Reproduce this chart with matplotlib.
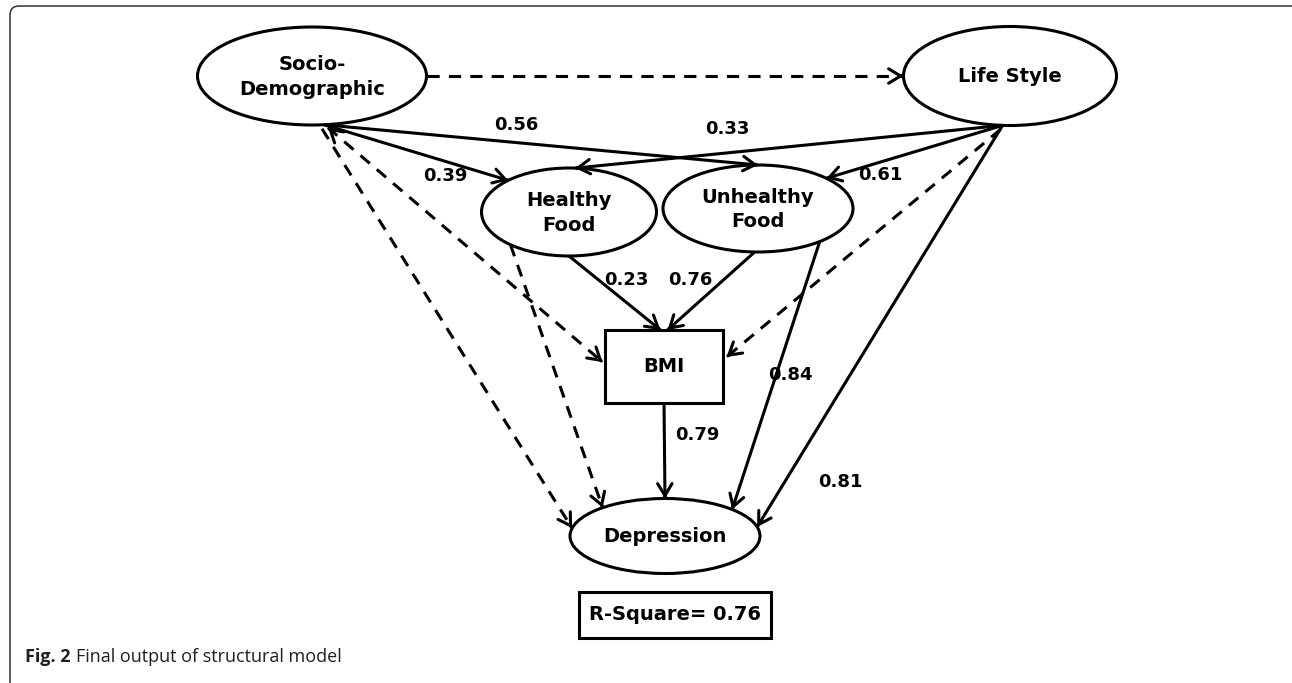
import numpy as np
import matplotlib
matplotlib.use('Agg')
import matplotlib.pyplot as plt
from matplotlib.patches import Ellipse, Rectangle, FancyBboxPatch

# node labels
node_names = ['socio', 'life', 'healthy', 'unhealthy', 'depression']
node_labels = ['Socio-\nDemographic', 'Life Style', 'Healthy\nFood', 'Unhealthy\nFood', 'Depression']
bmi_label = 'BMI'

# path coefficients (solid paths) and their labels
coef_edges = ['socio-unhealthy', 'socio-healthy', 'life-healthy', 'life-unhealthy',
              'healthy-bmi', 'unhealthy-bmi', 'unhealthy-depression', 'bmi-depression',
              'life-depression']
coef_values = [0.56, 0.39, 0.33, 0.61, 0.23, 0.76, 0.84, 0.79, 0.81]
r_square = 0.76

# layout in pixels (y down): center x, center y, width, height
layout = {
    'socio': (312, 76, 229, 98),
    'life': (1010, 76, 213, 99),
    'healthy': (569, 212, 175, 88),
    'unhealthy': (758, 208.5, 190, 87),
    'depression': (665, 536, 190, 75),
}
bmi_box = (605, 330, 118, 73)   # x, y, w, h

LW = 2.2


def ell_pt(name, t):
    cx, cy, w, h = layout[name]
    t = np.radians(t)
    return np.array([cx + w / 2 * np.cos(t), cy + h / 2 * np.sin(t)])


def bmi_pt(fx, fy):
    x, y, w, h = bmi_box
    return np.array([x + fx * w, y + fy * h])


def head(ax, p_from, p_to):
    d = (p_to - p_from) / np.linalg.norm(p_to - p_from)
    ax.annotate('', xy=p_to, xytext=p_to - d * 2,
                arrowprops=dict(arrowstyle='->,head_length=0.43,head_width=0.26',
                                lw=LW, color='black', mutation_scale=20,
                                shrinkA=0, shrinkB=0))


def path(ax, p0, p1, dashed=False, both=False):
    ls = (0, (4, 3)) if dashed else '-'
    ax.plot([p0[0], p1[0]], [p0[1], p1[1]], color='black', lw=LW, ls=ls,
            solid_capstyle='butt', dash_capstyle='butt')
    head(ax, p0, p1)
    if both:
        head(ax, p1, p0)


fig = plt.figure(figsize=(12.92, 6.83), dpi=100)
ax = fig.add_axes([0, 0, 1, 1])
ax.set_xlim(0, 1292)
ax.set_ylim(683, 0)
ax.axis('off')

# outer frame (only top and left edges fall inside the picture)
ax.add_patch(FancyBboxPatch((10, 6), 1292, 687, boxstyle='round,pad=0,rounding_size=9',
                            fill=False, lw=1.1, ec='#333333', clip_on=True))

# nodes
for name, lab in zip(node_names, node_labels):
    cx, cy, w, h = layout[name]
    ax.add_patch(Ellipse((cx, cy), w, h, fill=False, lw=LW, ec='black'))
    ax.text(cx, cy + 1, lab, ha='center', va='center', fontsize=14,
            fontweight='bold', linespacing=1.35)
bx, by, bw, bh = bmi_box
ax.add_patch(Rectangle((bx, by), bw, bh, fill=False, lw=LW, ec='black'))
ax.text(bx + bw / 2, by + bh / 2, bmi_label, ha='center', va='center',
        fontsize=14, fontweight='bold')

# ports
socio_out = ell_pt('socio', 84)
life_out = ell_pt('life', 94)

# dashed paths
path(ax, ell_pt('socio', 0), ell_pt('life', 180), dashed=True)
path(ax, socio_out + [4, 3], bmi_pt(-0.02, 0.44), dashed=True, both=True)
path(ax, socio_out + [-2, 4], ell_pt('depression', 192), dashed=True)
path(ax, ell_pt('healthy', 132), ell_pt('depression', 229), dashed=True)
path(ax, life_out + [-2, 4], bmi_pt(1.03, 0.37), dashed=True)

# solid paths with coefficients
ends = {
    'socio-unhealthy': (socio_out, ell_pt('unhealthy', 270)),
    'socio-healthy': (socio_out, ell_pt('healthy', 226)),
    'life-healthy': (life_out, ell_pt('healthy', 274)),
    'life-unhealthy': (life_out, ell_pt('unhealthy', 316)),
    'healthy-bmi': (ell_pt('healthy', 90), bmi_pt(0.47, 0)),
    'unhealthy-bmi': (ell_pt('unhealthy', 92), bmi_pt(0.53, 0)),
    'unhealthy-depression': (ell_pt('unhealthy', 49.5), ell_pt('depression', 315)),
    'bmi-depression': (bmi_pt(0.5, 1), ell_pt('depression', 270)),
    'life-depression': (life_out, ell_pt('depression', 346)),
}
label_pos = {
    'socio-unhealthy': (516, 125), 'socio-healthy': (445, 176),
    'life-healthy': (727, 129), 'life-unhealthy': (880, 175),
    'healthy-bmi': (626, 280), 'unhealthy-bmi': (690, 280),
    'unhealthy-depression': (790, 375), 'bmi-depression': (697, 435),
    'life-depression': (840, 482),
}
for key, val in zip(coef_edges, coef_values):
    p0, p1 = ends[key]
    path(ax, p0, p1)
    lx, ly = label_pos[key]
    ax.text(lx, ly, f'{val:.2f}', ha='center', va='center', fontsize=13,
            fontweight='bold')

# R-square box
ax.add_patch(Rectangle((579, 592), 192, 46, fill=False, lw=LW, ec='black'))
ax.text(675, 615, f'R-Square= {r_square:.2f}', ha='center', va='center',
        fontsize=14, fontweight='bold')

# caption
t1 = ax.text(25, 657, 'Fig. 2', ha='left', va='center', fontsize=13,
             fontweight='bold', family='Open Sans', color='#231f20')
fig.canvas.draw()
bb = t1.get_window_extent().transformed(ax.transData.inverted())
ax.text(bb.x1 + 5, 657, 'Final output of structural model', ha='left', va='center',
        fontsize=13, family='Open Sans', color='#231f20')

fig.savefig('out.png', dpi=100)
